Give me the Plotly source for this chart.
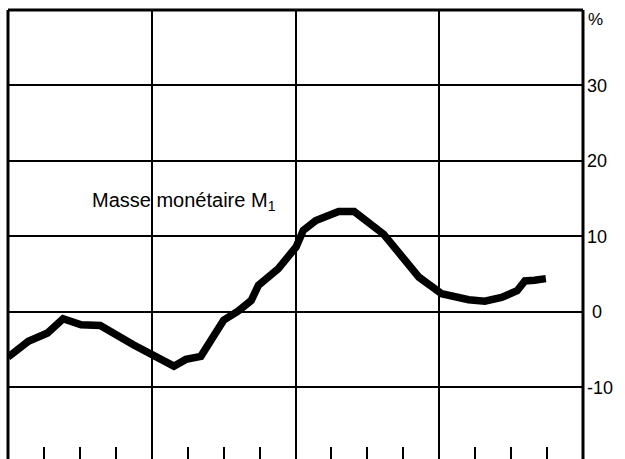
import plotly.graph_objects as go

# Months since start of period (traced vertices) and M1 growth rate (%)
months = [0, 0.6, 1.7, 3.3, 4.6, 6.1, 7.7, 10.5, 12.05, 13.85, 14.85, 16.1, 18.0,
          19.2, 20.3, 20.9, 22.55, 24.05, 24.65, 25.7, 27.6, 28.9, 31.35, 32.85,
          34.3, 36.2, 38.45, 39.8, 41.2, 42.5, 43.15, 43.95, 44.9]
m1_growth = [-6.0, -5.3, -3.9, -2.8, -0.9, -1.7, -1.8, -4.4, -5.8, -7.2, -6.3, -5.9, -1.1,
             0.1, 1.5, 3.5, 5.7, 8.6, 10.8, 12.1, 13.3, 13.3, 10.3, 7.5,
             4.6, 2.4, 1.6, 1.4, 1.9, 2.8, 4.1, 4.2, 4.4]

y_tickvals = [-10, 0, 10, 20, 30]
y_ticktext = ["-10", " 0", "10", "20", "30"]
year_lines = [12, 24, 36]
series_label = "Masse monétaire M<sub>1</sub>"

fig = go.Figure()
fig.add_trace(go.Scatter(x=months, y=m1_growth, mode="lines",
                         line=dict(color="black", width=7.5), showlegend=False,
                         hoverinfo="skip"))

font = dict(family="Liberation Sans, Arial, Helvetica, sans-serif", color="black")

fig.update_layout(
    width=625, height=459,
    margin=dict(l=8, r=42, t=10, b=0),
    paper_bgcolor="white", plot_bgcolor="white",
    showlegend=False,
    xaxis=dict(range=[0, 48], tickvals=year_lines, showgrid=True, gridcolor="black",
               gridwidth=1.5, ticks="", showticklabels=False, zeroline=False,
               showline=False,
               minor=dict(dtick=3, tick0=0, ticks="inside", ticklen=12, tickwidth=2,
                          tickcolor="black", showgrid=False)),
    yaxis=dict(range=[-19.5, 40], side="right", tickvals=y_tickvals, ticktext=y_ticktext,
               showgrid=True, gridcolor="black", gridwidth=1.5, zeroline=False,
               ticks="", showline=False, ticklabelstandoff=3,
               tickfont=dict(size=18, **font)),
    font=font,
)

# Frame: left, top, right
frame = dict(color="black", width=3)
fig.add_shape(type="line", xref="paper", yref="paper", x0=0, x1=0, y0=0, y1=1, line=frame)
fig.add_shape(type="line", xref="paper", yref="paper", x0=0, x1=1, y0=1, y1=1, line=frame)
fig.add_shape(type="line", xref="paper", yref="paper", x0=1, x1=1, y0=0, y1=1, line=frame)

fig.add_annotation(x=1, xref="paper", xanchor="left", xshift=3, y=1, yref="paper",
                   yanchor="middle", yshift=-9, text="%", showarrow=False,
                   font=dict(size=17, **font))
fig.add_annotation(x=6.85, y=14.6, xanchor="left", yanchor="middle", text=series_label,
                   showarrow=False, font=dict(size=20, **font))

fig.write_html("out.html", config={"displayModeBar": False},
               post_script="document.body.style.margin='0';document.body.style.overflow='hidden';")
